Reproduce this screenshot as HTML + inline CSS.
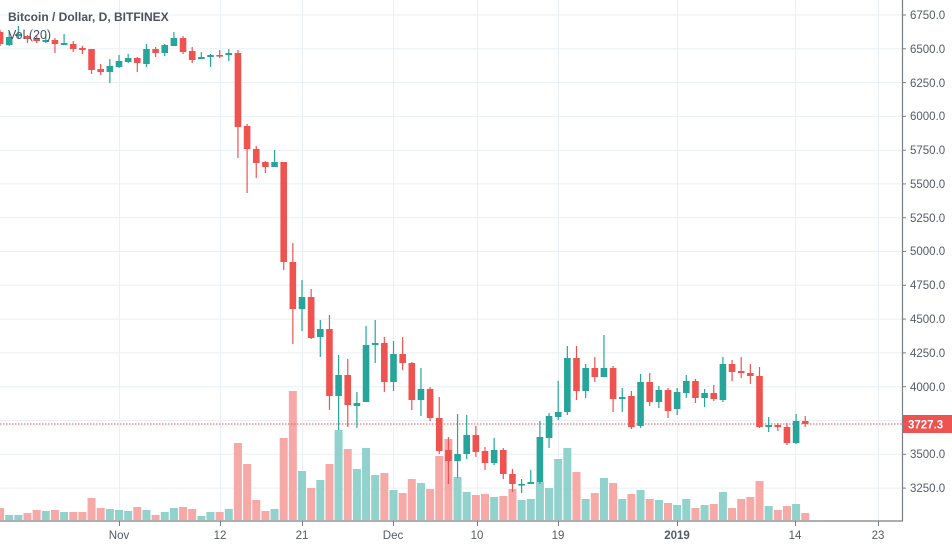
<!DOCTYPE html>
<html><head><meta charset="utf-8"><style>
html,body{margin:0;padding:0;background:#fff;width:952px;height:546px;overflow:hidden}
svg{display:block;font-family:"Liberation Sans",sans-serif}
</style></head><body>
<svg id="c" width="952" height="546" xmlns="http://www.w3.org/2000/svg">
<g id="grid" stroke="#eaf0f5" stroke-width="1"></g>
<g id="vol"></g>
<line x1="0" y1="424" x2="902" y2="424" stroke="#ef5350" stroke-width="1" stroke-dasharray="1.5,1.5"/>
<g id="cand"></g>
<line x1="902.5" y1="0" x2="902.5" y2="521" stroke="#7a7e86" stroke-width="1.2"/>
<line x1="0" y1="521" x2="903" y2="521" stroke="#7a7e86" stroke-width="1.2"/>
<g id="ticks" stroke="#7a7e86" stroke-width="1"></g>
<g font-size="11.5" fill="#555b66">
<text x="910" y="19">6750.0</text><text x="910" y="53">6500.0</text><text x="910" y="87">6250.0</text>
<text x="910" y="120">6000.0</text><text x="910" y="154">5750.0</text><text x="910" y="188">5500.0</text>
<text x="910" y="222">5250.0</text><text x="910" y="255">5000.0</text><text x="910" y="289">4750.0</text>
<text x="910" y="323">4500.0</text><text x="910" y="357">4250.0</text><text x="910" y="391">4000.0</text>
<text x="910" y="458">3500.0</text><text x="910" y="492">3250.0</text>
</g>
<rect x="903" y="415" width="49" height="18" fill="#ef5350"/>
<text x="908" y="428.5" font-size="11.5" font-weight="bold" fill="#fff">3727.3</text>
<g font-size="11.5" fill="#555b66" text-anchor="middle">
<text x="119" y="539">Nov</text><text x="220" y="539">12</text><text x="302" y="539">21</text>
<text x="393" y="539">Dec</text><text x="477" y="539">10</text><text x="558" y="539">19</text>
<text x="677" y="539" font-weight="bold">2019</text><text x="795" y="539">14</text><text x="878" y="539">23</text>
</g>
<text x="8" y="21" font-size="12" font-weight="bold" fill="#4c525e">Bitcoin / Dollar, D, BITFINEX</text>
<text x="8" y="39" font-size="12.5" fill="#4c525e">Vol (20)</text>
</svg>
<script>
var NS="http://www.w3.org/2000/svg";
function el(p,t,a){var e=document.createElementNS(NS,t);for(var k in a)e.setAttribute(k,a[k]);p.appendChild(e);}
var g=document.getElementById('grid');
for(var i=0;i<15;i++){var y=15+i*33.79;el(g,'line',{x1:0,x2:902,y1:y.toFixed(1),y2:y.toFixed(1)});}
var tx=[119,220,302,393,477,558,677,795,878];
tx.forEach(function(x){el(g,'line',{x1:x+.5,x2:x+.5,y1:0,y2:521});el(document.getElementById('ticks'),'line',{x1:x+.5,x2:x+.5,y1:521,y2:526});});
var tk=document.getElementById('ticks');
for(var i=0;i<15;i++){var y=15+i*33.79;el(tk,'line',{x1:902,x2:906,y1:y.toFixed(1),y2:y.toFixed(1)});}
var D=[
[32,44,30,46,'r',508],[37,45,32,46,'g',515],[34,36,26,38,'g',515],[36,39,35,43,'r',513],[38,41,35,43,'r',510],
[40,42,34,43,'g',511],[40,44,38,53,'r',510],[43,45,34,45,'g',512],[44,49,41,52,'r',512],[48,50,46,54,'r',512],
[49,70,49,74,'r',498],[69,72,64,75,'r',508],[66,72,59,83,'g',509],[61,67,55,68,'g',510],[58,62,54,63,'g',511],
[58,63,57,72,'r',507],[49,64,44,67,'g',510],[49,53,47,57,'r',515],[45,53,44,56,'g',512],[38,46,32,46,'g',508],
[38,52,36,54,'r',507],[51,60,47,63,'r',509],[57,59,52,59,'g',516],[55,57,54,67,'g',512],[55,56,50,58,'r',512],
[53,55,49,61,'g',509],[53,127,50,158,'r',443],[126,149,124,193,'r',464],[149,163,146,178,'r',500],[162,167,161,173,'r',511],
[162,167,150,167,'g',509],[162,262,162,270,'r',438],[262,309,243,344,'r',391],[297,309,280,331,'g',471],[297,338,289,339,'r',488],
[329,337,320,357,'g',480],[329,396,315,410,'r',464],[375,396,355,430,'g',430],[375,405,359,427,'r',449],[403,406,392,428,'g',469],
[345,402,326,402,'g',448],[343,345,320,363,'g',475],[343,382,337,392,'r',473],[354,382,341,391,'g',490],[354,363,337,370,'r',493],
[363,400,362,410,'r',479],[389,400,368,416,'g',483],[389,418,387,421,'r',489],[418,451,397,454,'r',456],[450,461,437,484,'r',439],
[454,461,414,478,'g',477],[435,454,415,459,'g',492],[435,452,426,457,'r',495],[451,463,447,470,'r',494],[450,463,438,465,'g',497],
[450,474,448,479,'r',496],[474,484,469,492,'r',489],[484,485,479,493,'g',500],[482,484,470,484,'g',499],[437,482,421,484,'g',482],
[416,438,413,448,'g',488],[412,417,381,420,'g',459],[358,412,346,415,'g',448],[358,391,346,400,'r',472],[368,391,364,398,'g',499],
[368,377,357,382,'r',493],[368,377,335,377,'g',478],[368,399,366,412,'r',483],[397,399,388,412,'g',499],[396,427,391,429,'r',494],
[382,426,374,428,'g',490],[382,402,373,406,'r',499],[390,402,386,408,'g',500],[390,411,388,418,'r',503],[392,409,388,415,'g',505],
[381,393,375,398,'g',499],[381,398,379,403,'r',508],[393,398,389,407,'g',505],[393,399,385,401,'r',504],[364,400,357,402,'g',492],
[364,372,360,381,'r',508],[371,373,357,378,'r',499],[373,376,364,384,'r',497],[376,427,367,428,'r',481],[425,427,417,432,'g',506],
[425,427,423,431,'r',510],[427,443,423,445,'r',506],[421,443,414,444,'g',504],[421,424,416,427,'r',513]];
var cv=document.getElementById('cand'),vv=document.getElementById('vol');
D.forEach(function(d,j){var i=j-1;var x=9.2+i*9.15;
var col=d[4]=='g'?'#26a69a':'#ef5350',vc=d[4]=='g'?'#92d2cc':'#f7a9a7';
el(vv,'rect',{x:(x-4).toFixed(2),y:d[5],width:8,height:520-d[5],fill:vc});
el(cv,'line',{x1:x.toFixed(2),x2:x.toFixed(2),y1:d[2],y2:d[3],stroke:col,'stroke-width':1.2});
var h=Math.max(d[1]-d[0],1.6);
el(cv,'rect',{x:(x-3.3).toFixed(2),y:d[0],width:6.6,height:h,fill:col});
});
</script>
</body></html>
